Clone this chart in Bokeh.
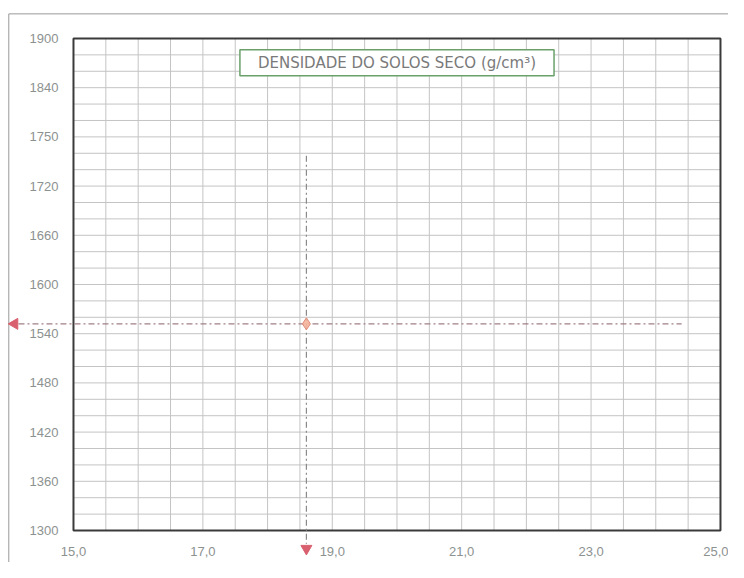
import numpy as np
from bokeh.plotting import figure
from bokeh.models import FixedTicker, Label, Range1d
from bokeh.embed import file_html
from bokeh.resources import INLINE

# ---- data ----
x_ticks = [15.0, 17.0, 19.0, 21.0, 23.0, 25.0]
x_tick_labels = ["15,0", "17,0", "19,0", "21,0", "23,0", "25,0"]
y_ticks = [1300, 1360, 1420, 1480, 1540, 1600, 1660, 1720, 1780, 1840, 1900]
y_tick_labels = ["1300", "1360", "1420", "1480", "1540", "1600", "1660", "1720", "1750", "1840", "1900"]
umidade_otima = [18.6]          # optimum moisture (%)
densidade_max = [1552]          # max dry density
title_text = "DENSIDADE DO SOLOS SECO (g/cm³)"

FONT = "Liberation Sans"
LABEL_COLOR = "#8c9290"

X_MIN, X_MAX = x_ticks[0], x_ticks[-1]
Y_MIN, Y_MAX = y_ticks[0], y_ticks[-1]

# the frame covers the whole canvas so the guide arrows can leave the chart box
p = figure(width=728, height=562,
           x_range=Range1d(13.872, 25.124), y_range=Range1d(1261.0, 1946.3),
           output_backend="svg", toolbar_location=None, min_border=0)
p.background_fill_color = "white"
p.border_fill_color = "white"
p.outline_line_color = None
p.xgrid.visible = False
p.ygrid.visible = False

# axes placed on the chart box edges
p.xaxis.fixed_location = Y_MIN
p.yaxis.fixed_location = X_MIN
p.xaxis.ticker = FixedTicker(ticks=x_ticks)
p.xaxis.major_label_overrides = {t: l for t, l in zip(x_ticks, x_tick_labels)}
p.yaxis.ticker = FixedTicker(ticks=y_ticks)
p.yaxis.major_label_overrides = {t: l for t, l in zip(y_ticks, y_tick_labels)}
for ax in (p.xaxis, p.yaxis):
    ax.axis_line_color = None
    ax.major_tick_line_color = None
    ax.minor_tick_line_color = None
    ax.major_label_text_color = LABEL_COLOR
    ax.major_label_text_font = FONT
    ax.major_label_text_font_size = "13px"
p.xaxis.major_label_standoff = 10
p.yaxis.major_label_standoff = 9

# sheet border (scanned page edge)
p.segment(x0=[14.0, 14.0], y0=[1261.0, 1930.0], x1=[14.0, 25.124], y1=[1930.0, 1930.0],
          line_color="#9a9a9a", line_width=1)

# grid inside the chart box
gx = np.arange(X_MIN + 0.5, X_MAX, 0.5)
gy = np.arange(Y_MIN + 20, Y_MAX, 20)
p.segment(x0=gx, y0=Y_MIN, x1=gx, y1=Y_MAX, line_color="#c4c4c4", line_width=1)
p.segment(x0=X_MIN, y0=gy, x1=X_MAX, y1=gy, line_color="#c4c4c4", line_width=1)

# chart box
p.quad(left=[X_MIN], right=[X_MAX], bottom=[Y_MIN], top=[Y_MAX],
       fill_color=None, line_color="#3a3a3a", line_width=2)

# guide lines with arrow heads
h_col = "#a08088"
v_col = "#8a8a8a"
head_col = "#d9606e"
x0 = umidade_otima[0]
y0 = densidade_max[0]
p.line([14.15, 24.4], [y0, y0], line_color=h_col, line_dash="6 3 2 3", line_width=1.3)
p.line([x0, x0], [1757, 1284], line_color=v_col, line_dash="6 3 2 3", line_width=1.2)
p.scatter([14.09], [y0], marker="triangle", angle=np.pi / 2, size=11,
          fill_color=head_col, line_color=head_col)
p.scatter([x0], [1278], marker="inverted_triangle", size=11,
          fill_color=head_col, line_color=head_col)

p.scatter(umidade_otima, densidade_max, marker="diamond", size=12,
          fill_color="#f5b49a", line_color="#e08a7a", fill_alpha=0.9)

# title box
p.add_layout(Label(x=20.0, y=1870.5, text=title_text, text_align="center",
                   text_baseline="middle", text_font="DejaVu Sans", text_font_size="15px",
                   text_color="#7a7a7a", border_line_color="#6aa06a",
                   border_line_width=1.5, background_fill_color="white",
                   padding=dict(left=18, right=18, top=4, bottom=4)))

open("out.html", "w").write(file_html(p, INLINE))
